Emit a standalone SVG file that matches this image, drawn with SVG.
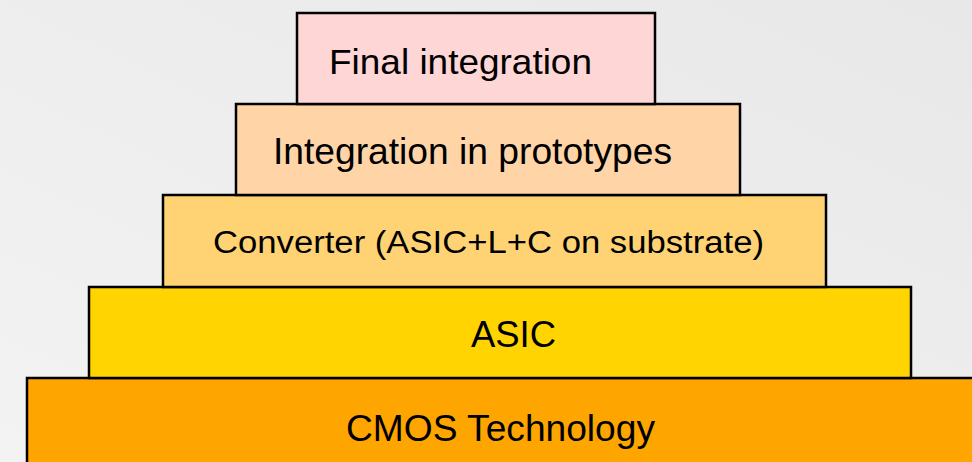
<svg xmlns="http://www.w3.org/2000/svg" width="972" height="462" viewBox="0 0 972 462">
<defs>
<linearGradient id="bg" x1="0" y1="1" x2="1" y2="0">
<stop offset="0" stop-color="#f3f3f3"/>
<stop offset="1" stop-color="#e8e8e8"/>
</linearGradient>
</defs>
<style>
.box{stroke:#000;stroke-width:2.5}
.t{font-family:"Liberation Sans",Arial,sans-serif;font-size:36px;fill:#000}
</style>
<rect x="0" y="0" width="972" height="462" fill="url(#bg)"/>
<g id="connectors"></g>
<g id="cmos">
<rect class="box" x="27" y="378" width="960" height="100" fill="#ffa500"/>
<text class="t" x="346" y="441" textLength="309" lengthAdjust="spacingAndGlyphs">CMOS Technology</text>
</g>
<g id="asic">
<rect class="box" x="89" y="287" width="822" height="91" fill="#ffd400"/>
<text class="t" x="471" y="347" textLength="85" lengthAdjust="spacingAndGlyphs">ASIC</text>
</g>
<g id="converter">
<rect class="box" x="163" y="195" width="663" height="92" fill="#ffd374"/>
<text class="t" x="213" y="253" style="font-size:31px" textLength="551" lengthAdjust="spacingAndGlyphs">Converter (ASIC+L+C on substrate)</text>
</g>
<g id="prototypes">
<rect class="box" x="236" y="104" width="504" height="91" fill="#ffd5a8"/>
<text class="t" x="273" y="164" textLength="399" lengthAdjust="spacingAndGlyphs">Integration in prototypes</text>
</g>
<g id="final">
<rect class="box" x="297" y="13" width="358" height="91" fill="#ffd6d6"/>
<text class="t" x="329" y="74" style="font-size:35px" textLength="263" lengthAdjust="spacingAndGlyphs">Final integration</text>
</g>
</svg>
